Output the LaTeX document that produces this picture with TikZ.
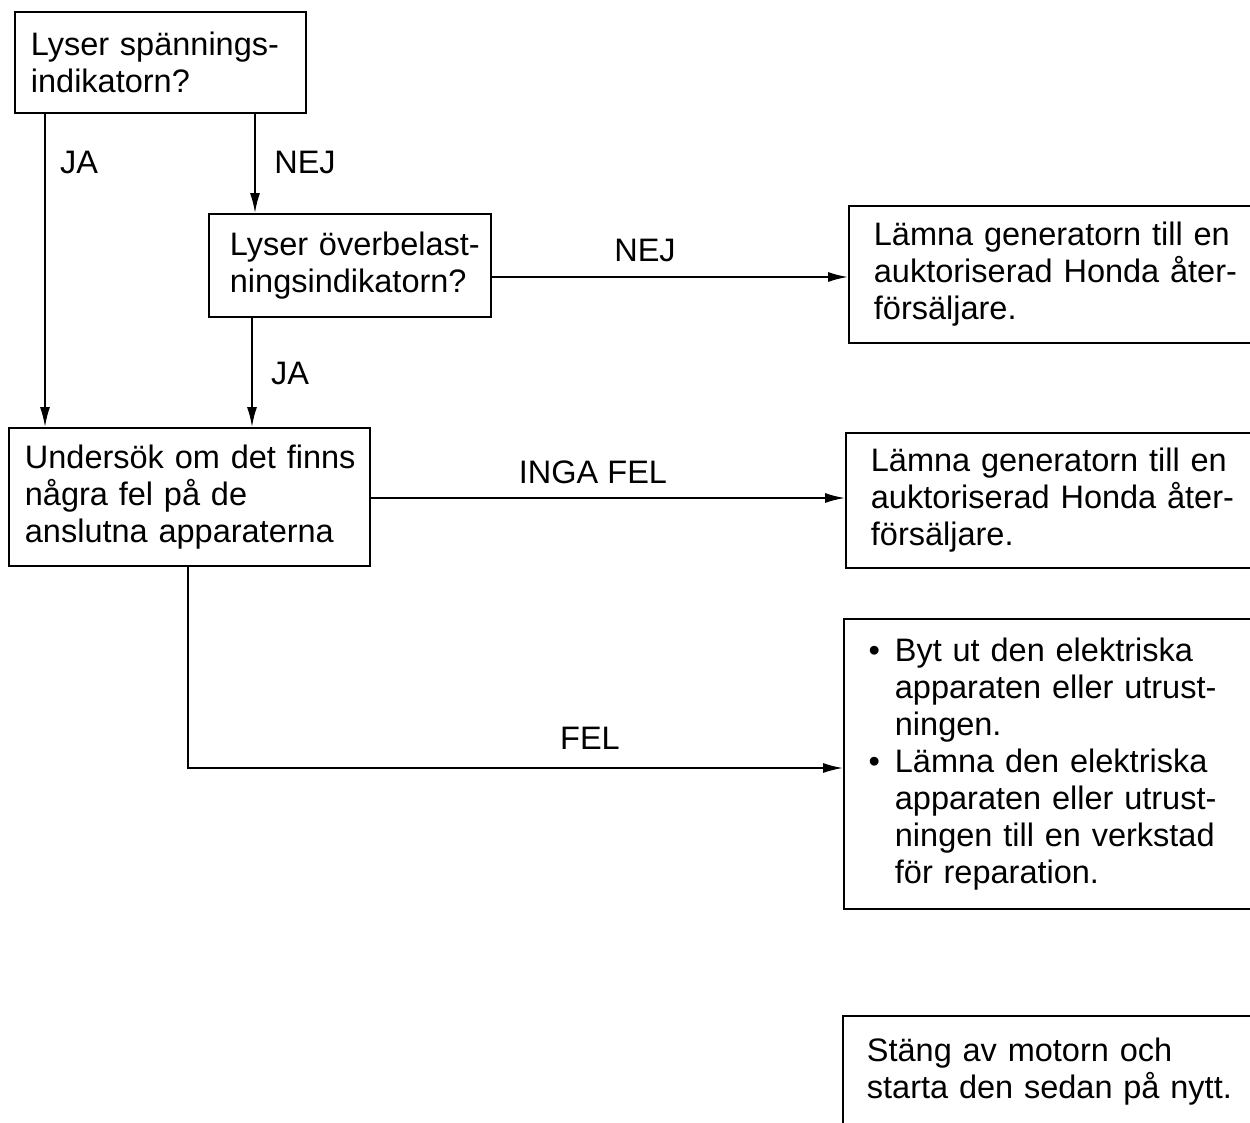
\documentclass[tikz,border=0pt]{standalone}
\usepackage{fontspec}
\setmainfont{Liberation Sans}
\usetikzlibrary{arrows.meta}

\begin{document}
\begin{tikzpicture}[x=1pt, y=-1pt,
    every node/.style={font=\fontsize{32.5}{37}\selectfont},
    box/.style={draw, line width=1.8pt, anchor=north west, align=left, inner ysep=0pt},
    arr/.style={line width=1.8pt, -{Latex[length=20pt, width=10pt]}},
    lbl/.style={inner sep=0pt}]
    \useasboundingbox (0,0) rectangle (1250,1122);
    \clip (0,0) rectangle (1250,1122);

    % Draw the question boxes
    \node[box, inner xsep=16pt, text width=259pt, minimum height=101pt] (q1) at (14,11)
        {\mbox{Lyser spännings-}\\indikatorn?};
    \node[box, inner xsep=21pt, text width=240pt, minimum height=103pt] (q2) at (208,213)
        {\mbox{Lyser överbelast-}\\\mbox{ningsindikatorn?}};
    \node[box, inner xsep=16pt, text width=329pt, minimum height=138pt] (act) at (8,427)
        {\mbox{Undersök om det finns}\\\mbox{några fel på de}\\\mbox{anslutna apparaterna}};

    % Draw the answer boxes (cut at the right edge)
    \node[box, inner xsep=25pt, text width=380pt, minimum height=137pt] (r1) at (848,205)
        {Lämna generatorn till en\\auktoriserad Honda åter-\\försäljare.};
    \node[box, inner xsep=25pt, text width=380pt, minimum height=135pt] (r2) at (845,432)
        {Lämna generatorn till en\\auktoriserad Honda åter-\\försäljare.};
    \node[box, inner xsep=51pt, text width=380pt, minimum height=290pt] (r3) at (843,618)
        {\leavevmode\llap{\textbullet\hspace{15pt}}Byt ut den elektriska\\apparaten eller utrust-\\ningen.\\
         \leavevmode\llap{\textbullet\hspace{15pt}}Lämna den elektriska\\apparaten eller utrust-\\ningen till en verkstad\\för reparation.};
    \node[box, inner xsep=24pt, text width=380pt, minimum height=112pt] (r4) at (842,1015)
        {Stäng av motorn och\\starta den sedan på nytt.};

    % Draw the connectors
    \coordinate (jaL) at (45,0);
    \coordinate (nejT) at (255,0);
    \coordinate (jaM) at (252,0);
    \coordinate (nejR) at (0,277);
    \coordinate (ingaR) at (0,498);
    \coordinate (felX) at (188,768);

    \draw[arr] (q1.south -| jaL) -- (act.north -| jaL);
    \draw[arr] (q1.south -| nejT) -- (q2.north -| nejT);
    \draw[arr] (q2.east |- nejR) -- (r1.west |- nejR);
    \draw[arr] (q2.south -| jaM) -- (act.north -| jaM);
    \draw[arr] (act.east |- ingaR) -- (r2.west |- ingaR);
    \draw[arr] (act.south -| felX) |- (r3.west |- felX);

    % Labels
    \node[lbl] (jaA) at (79,162) {JA};
    \node[lbl] (nejA) at (305,162) {NEJ};
    \node[lbl] (nejB) at (645,250) {NEJ};
    \node[lbl] (jaB) at (290,373) {JA};
    \node[lbl] (ingaA) at (593,472) {INGA FEL};
    \node[lbl] (felA) at (590,738) {FEL};
\end{tikzpicture}
\end{document}
